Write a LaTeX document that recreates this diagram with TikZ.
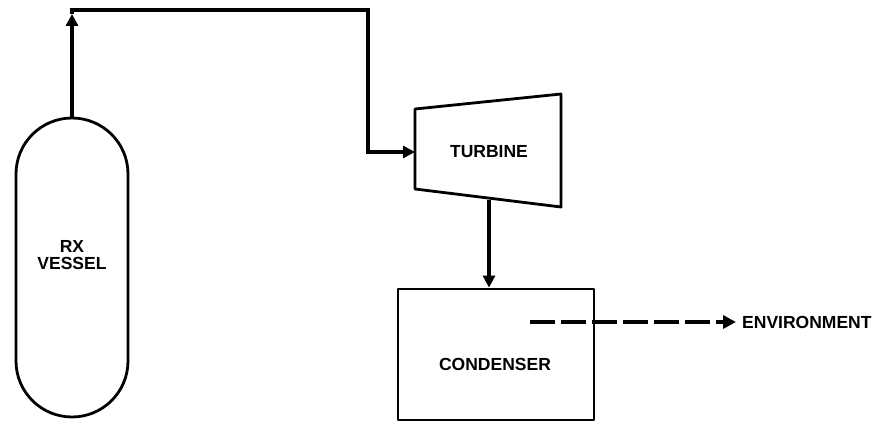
\documentclass[tikz,border=0pt]{standalone}
\usepackage{fontspec}
\setmainfont{Liberation Sans}
\usetikzlibrary{arrows.meta}
\begin{document}
\begin{tikzpicture}[x=1pt,y=1pt,
  lbl/.style={font=\bfseries\fontsize{17.5}{19}\selectfont, align=center, inner sep=0pt},
  outline/.style={line width=2.8pt, line join=round},
  pipe/.style={line width=4pt, line join=miter},
  tip/.style={-{Triangle[length=12pt,width=12pt]}}
]
\useasboundingbox (0,0) rectangle (885,-422);
% vessel
\node[outline, draw, rectangle, rounded corners=56pt, minimum width=112pt, minimum height=299pt, inner sep=0pt] (vessel) at (72,-267.5) {};
\node[lbl] (vlabel) at (72,-255) {RX\\[-2pt]VESSEL};
% turbine
\coordinate (tTL) at (415,-109);
\coordinate (tTR) at (561,-94);
\coordinate (tBR) at (561,-207);
\coordinate (tBL) at (415,-189);
\draw[outline] (tTL) -- (tTR) -- (tBR) -- (tBL) -- cycle;
\node[lbl] (turbine) at (489,-152) {TURBINE};
\coordinate (tin) at (415,-152);
\coordinate (tout) at (489,-200);
% condenser
\node[outline, draw, rectangle, minimum width=196pt, minimum height=131pt, inner sep=0pt] (cond) at (496,-354.5) {};
\node[lbl] (clabel) at (495,-364) {CONDENSER};
% environment
\node[lbl, anchor=west] (env) at (742,-322) {ENVIRONMENT};
\coordinate (dstart) at (530,-322);
% pipes
\coordinate (up) at (72,-14);
\coordinate (c1) at (72,-10);
\coordinate (c2) at (368,-10);
\coordinate (c3) at (368,-152);
\draw[pipe, tip] (vessel.north) -- (up);
\draw[pipe] (up) -- (c1) -- (c2) -- (c3) -- ([xshift=-8pt]tin);
\draw[pipe, tip] (c3) -- (tin);
\draw[pipe, tip] (tout) -- (tout |- cond.north);
\draw[line width=4.5pt, dash pattern=on 25pt off 6pt, -{Triangle[length=13pt,width=13pt]}] (dstart) -- ([xshift=-6pt]env.west);
\end{tikzpicture}
\end{document}
